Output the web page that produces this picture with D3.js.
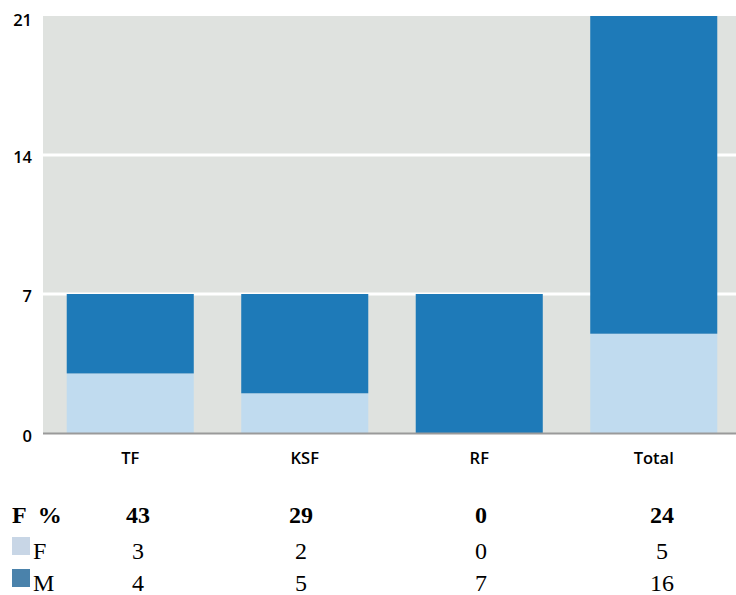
<!DOCTYPE html>
<html>
<head>
<meta charset="utf-8">
<script src="https://cdn.jsdelivr.net/npm/d3@7"></script>
<style>
  html, body { margin: 0; padding: 0; background: #fff; }
  svg { display: block; }
</style>
</head>
<body>
<script>
// Staff counts by unit, split by sex
const categories = ["TF", "KSF", "RF", "Total"];
const femaleValues = [3, 2, 0, 5];
const maleValues = [4, 5, 7, 16];
const femalePct = [43, 29, 0, 24];
const yTicks = [0, 7, 14, 21];

const W = 736, H = 595;
const plot = { left: 43, right: 741, top: 16, bottom: 433 };
// centres of the table columns under the chart
const tableCols = [138, 301, 481, 662];

const svg = d3.select("body").append("svg")
  .attr("width", W).attr("height", H);

const x = d3.scaleBand()
  .domain(categories)
  .range([plot.left, plot.right])
  .paddingInner(0.272)
  .paddingOuter(0.136);

const y = d3.scaleLinear()
  .domain([0, 21])
  .range([plot.bottom, plot.top]);

// plot background
svg.append("rect")
  .attr("x", plot.left).attr("y", plot.top)
  .attr("width", W - plot.left).attr("height", plot.bottom - plot.top)
  .attr("fill", "#dfe2df");

// white gridlines
svg.append("g")
  .selectAll("line")
  .data(yTicks.filter(d => d > 0 && d < 21))
  .join("line")
  .attr("x1", plot.left).attr("x2", W)
  .attr("y1", d => y(d)).attr("y2", d => y(d))
  .attr("stroke", "#fff").attr("stroke-width", 3);

// stacked bars
const stackData = categories.map((c, i) => ({ cat: c, F: femaleValues[i], M: maleValues[i] }));
const series = d3.stack().keys(["F", "M"])(stackData);
const colors = { F: "#c0dbef", M: "#1e7ab8" };

svg.append("g")
  .selectAll("g")
  .data(series)
  .join("g")
  .attr("fill", d => colors[d.key])
  .selectAll("rect")
  .data(d => d)
  .join("rect")
  .attr("x", d => x(d.data.cat))
  .attr("width", x.bandwidth())
  .attr("y", d => y(d[1]))
  .attr("height", d => y(d[0]) - y(d[1]));

// baseline
svg.append("line")
  .attr("x1", plot.left).attr("x2", W)
  .attr("y1", y(0) + 0.5).attr("y2", y(0) + 0.5)
  .attr("stroke", "#9a9a9a").attr("stroke-width", 2);

// y axis labels
const yAxis = d3.axisLeft(y).tickValues(yTicks).tickSize(0).tickPadding(0);
const gy = svg.append("g")
  .attr("transform", `translate(32,0)`)
  .call(yAxis);
gy.select(".domain").remove();
gy.selectAll("text")
  .attr("font-family", "'Open Sans', sans-serif")
  .attr("font-weight", 600)
  .attr("font-size", 16.5)
  .attr("fill", "#000")
  .attr("dy", d => d === 21 ? "0.55em" : d === 0 ? "0.5em" : "0.45em");

// category labels
const xAxis = d3.axisBottom(x).tickSize(0).tickPadding(0);
const gx = svg.append("g")
  .attr("transform", `translate(0,${y(0) + 31})`)
  .call(xAxis);
gx.select(".domain").remove();
gx.selectAll("text")
  .attr("font-family", "'Open Sans', sans-serif")
  .attr("font-weight", 600)
  .attr("font-size", 16.5)
  .attr("fill", "#000")
  .attr("dy", 0);

// data table beneath the chart
const table = svg.append("g")
  .attr("font-family", "'Liberation Serif', 'Times New Roman', serif")
  .attr("font-size", 24)
  .attr("fill", "#000");

const rows = [
  { label: "F  %", values: femalePct, bold: true, y: 523, swatch: null },
  { label: "F", values: femaleValues, bold: false, y: 559, swatch: "#c8d6e6" },
  { label: "M", values: maleValues, bold: false, y: 591, swatch: "#4a82ab" }
];

rows.forEach(r => {
  if (r.swatch) {
    table.append("rect")
      .attr("x", 12).attr("y", r.y - 22)
      .attr("width", 18).attr("height", 18)
      .attr("fill", r.swatch);
  }
  table.append("text")
    .attr("x", r.swatch ? 33 : 12).attr("y", r.y)
    .attr("font-weight", r.bold ? "bold" : "normal")
    .style("white-space", "pre")
    .text(r.label);
  table.append("g")
    .selectAll("text")
    .data(r.values)
    .join("text")
    .attr("x", (d, i) => tableCols[i])
    .attr("y", r.y)
    .attr("text-anchor", "middle")
    .attr("font-weight", r.bold ? "bold" : "normal")
    .text(d => d);
});
</script>
</body>
</html>
